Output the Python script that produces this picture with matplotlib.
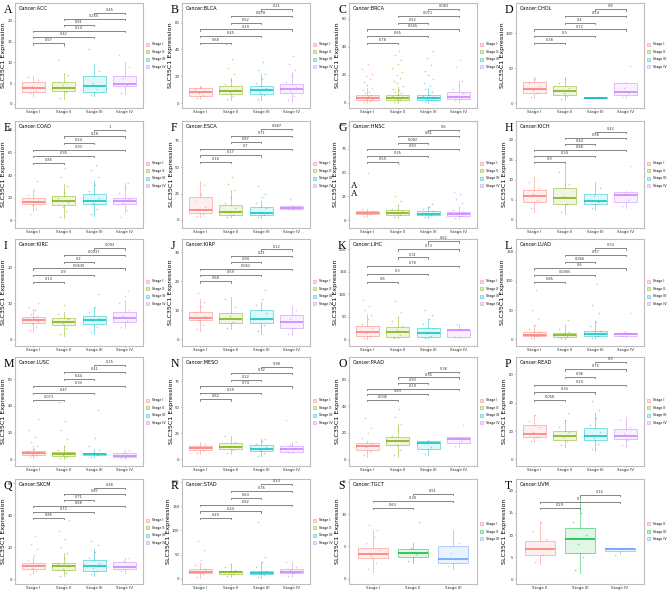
import numpy as np
import matplotlib.pyplot as plt
from matplotlib.patches import Patch
from matplotlib.colors import to_rgba

# ---- data: (whisker low, q1, median, q3, whisker high) per stage ----
stages4 = ["Stage I", "Stage II", "Stage III", "Stage IV"]
stages_tgct = ["Stage I", "Stage II", "Stage III"]
stages_uvm = ["Stage II", "Stage III", "Stage IV"]

acc_stats = [(1.8, 2.8, 3.7, 5.3, 6.8), (1.2, 3.2, 3.9, 5.3, 7.5), (2.0, 2.8, 4.4, 6.6, 9.5), (2.3, 4.2, 4.8, 6.6, 10.0)]
acc_pts = [[2.5, 3.1, 4.2, 5.8, 6.5], [1.5, 2.8, 4.6, 6.9, 10.5, 14.0], [2.2, 3.5, 5.1, 7.8, 13.3], [2.6, 4.5, 6.2, 8.9, 11.8]]
acc_p = ["0.57", "0.42", "0.14", "0.81", "0.255", "0.45"]

blca_stats = [(3, 5.5, 8, 11, 13), (2, 6.5, 9, 12.5, 19), (2, 7, 9.5, 13, 22), (1, 7.5, 10.5, 14.5, 23)]
blca_pts = [[4, 6, 7.5, 9, 10.5, 12], [3, 5, 8, 10, 14, 17, 22, 26, 33, 44], [3, 6, 8, 11, 15, 18, 22, 25, 31], [2, 5, 9, 12, 16, 20, 25, 29, 35]]
blca_p = ["0.68", "0.45", "0.29", "0.52", "0.878", "0.11"]

brca_stats = [(0.3, 2, 3.5, 5.5, 10.5), (0.3, 2, 3.8, 6, 11.5), (0.3, 2, 3.5, 5.5, 10.5), (1, 2.5, 4, 8, 16)]
brca_pts = [[1, 1.5, 2.5, 3, 4, 5, 6, 7, 8, 9, 11, 13, 15, 17, 19, 21, 24, 28],
            [1, 2, 3, 4, 5, 6, 7, 8, 9, 10, 12, 14, 16, 18, 20, 22, 25, 28, 31, 34, 37],
            [1, 2, 3, 4, 5, 6, 8, 10, 12, 14, 17, 20, 23, 27, 32, 37],
            [2, 3, 5, 7, 10, 13, 16, 26, 31]]
brca_p = ["0.78", "0.65", "0.565", "0.52", "0.071", "0.083"]

chol_stats = [(7, 15, 20, 30, 37), (5, 12, 17, 24, 37), (6.5, 7, 7.5, 8, 8.5), (7, 12, 16, 28, 30)]
chol_pts = [[9, 14, 19, 24, 29, 34], [6, 10, 15, 21, 28, 35], [7, 8], [8, 14, 22, 53]]
chol_p = ["0.38", "0.3", "0.72", "0.4", "0.54", "0.8"]

coad_stats = [(8, 14, 16, 20, 26), (2, 13, 17, 21, 32), (4, 14, 17, 23, 35), (7, 14.5, 17, 20, 33)]
coad_pts = [[5, 10, 13, 17, 22, 27, 35], [3, 8, 12, 16, 20, 25, 30, 38, 46], [5, 10, 15, 20, 26, 31, 38, 44, 49], [3, 9, 15, 19, 24, 29, 33]]
coad_p = ["0.85", "0.35", "0.93", "0.24", "0.28", "1"]

esca_stats = [(3, 7, 9, 22, 37), (3, 5, 8, 14, 28), (2, 5, 7, 12, 18), (9, 10, 11, 13, 14)]
esca_pts = [[4, 6, 9, 12, 18, 25, 33], [3, 5, 8, 11, 16, 22, 28, 34, 41], [3, 5, 8, 11, 16, 22, 25, 32], [10, 12, 20]]
esca_p = ["0.18", "0.17", "0.7", "0.87", "0.71", "0.887"]

hnsc_stats = [(3, 6, 7.5, 10, 12), (2, 5.5, 7.5, 11, 15), (2, 5, 6, 9, 15), (1, 4.5, 6, 8, 13)]
hnsc_pts = [[4, 6, 8, 10, 12, 50], [3, 5, 7, 9, 12, 16, 20, 25, 59], [3, 5, 7, 9, 12, 14, 17], [2, 4, 6, 8, 11, 14, 18, 22, 27, 30]]
hnsc_p = ["0.59", "0.35", "0.93", "0.082", "0.61", "0.6"]

kich_stats = [(2, 4.5, 6, 7.5, 11), (1.5, 4, 5.5, 8, 14), (2.5, 4, 4.8, 6.5, 9.5), (3, 4.5, 6.2, 7, 7.2)]
kich_pts = [[3, 5, 6.5, 8, 9.5], [2, 4, 6, 9, 12], [3, 4.5, 6, 8], [3.5, 5, 6.5, 13.5]]
kich_p = ["0.9", "0.34", "0.88", "0.44", "0.58", "0.42"]

kirc_stats = [(2, 4.5, 5.3, 6.2, 8.5), (1, 4, 4.8, 6, 7.5), (1.5, 4.3, 5.4, 6.4, 9), (3, 4.8, 5.8, 7.5, 11)]
kirc_pts = [[2.5, 3.5, 4.5, 5, 5.5, 6, 6.5, 7, 8, 9, 10], [1.5, 3, 4.5, 5.5, 7, 9.5], [2, 3.5, 5, 6, 7.5, 9, 12.5], [3.5, 5, 6.5, 8, 10, 12, 13.5]]
kirc_p = ["0.13", "0.9", "0.0635", "0.2", "0.0037", "0.093"]

kirp_stats = [(3, 6.5, 7.5, 9.5, 14), (3.5, 5.5, 7, 9.2, 14.5), (2, 5.5, 7, 10, 13), (1.5, 4, 6, 8.5, 11.5)]
kirp_pts = [[3.5, 5, 6.5, 8, 9.5, 11, 13, 16, 20], [4, 6, 8, 11, 14], [3, 5, 7, 9, 12, 14, 17], [2, 4, 7, 10]]
kirp_p = ["0.68", "0.59", "0.062", "0.94", "0.21", "0.12"]

lihc_stats = [(0, 7, 16, 29, 57), (2, 5, 16, 27, 48), (2, 5, 13, 25, 45), (3, 5, 20, 20.5, 33)]
lihc_pts = [[2, 8, 15, 25, 35, 45, 55, 65, 75, 88], [3, 10, 20, 30, 40, 50, 60, 85], [3, 8, 15, 25, 35, 45, 55, 65], [5, 20, 33]]
lihc_p = ["0.8", "0.3", "0.78", "0.31", "0.73", "0.62"]

luad_stats = [(0, 5, 8, 12, 25), (1, 4.5, 7.5, 11, 22), (1, 6, 9.5, 14.5, 32), (4, 6.5, 8.5, 10.5, 15)]
luad_pts = [[2, 5, 8, 12, 18, 25, 35, 50, 85], [2, 5, 8, 12, 18, 25, 33], [2, 6, 10, 15, 22, 30, 45, 58, 95], [5, 9, 13, 45]]
luad_p = ["0.85", "0.0065", "0.6", "0.066", "0.57", "0.33"]

lusc_stats = [(1, 3, 4.5, 6, 10), (0.5, 2.5, 4, 5.5, 10), (1.5, 3, 4, 5, 8), (0.5, 1.5, 2.5, 4.5, 7)]
lusc_pts = [[1.5, 3, 4, 5, 6, 8, 10, 13, 17, 22, 30], [1, 2, 3.5, 5, 7, 10, 15, 22, 29, 43], [2, 3.5, 5, 7, 10, 16, 37], [1, 3, 5, 7]]
lusc_p = ["0.073", "0.47", "0.33", "0.44", "0.41", "0.15"]

meso_stats = [(5, 9, 11, 13, 17), (5, 10, 12, 16, 22), (3, 8, 10, 13.5, 20), (6, 7.5, 9.5, 13, 17)]
meso_pts = [[6, 9, 12, 15], [6, 9, 13, 17, 22, 57], [3, 6, 9, 12, 15, 18, 20], [7, 10, 14, 17, 38]]
meso_p = ["0.62", "0.29", "0.74", "0.22", "0.32", "0.98"]

paad_stats = [(2, 7, 10, 12, 14), (2, 10.5, 14, 17, 27), (3, 8, 12.5, 14, 14.5), (9, 12, 15, 16.5, 17)]
paad_pts = [[3, 6, 9, 12, 16, 20, 24, 31], [3, 7, 11, 14, 18, 22, 27, 32, 38], [4, 9, 13], [10, 14, 16, 26]]
paad_p = ["0.036", "0.83", "0.19", "0.93", "0.35", "0.38"]

read_stats = [(12, 16, 18, 24, 31), (9, 14, 16.5, 20, 28), (6, 13.5, 16.5, 22, 33), (9, 14.5, 16.5, 21.5, 30)]
read_pts = [[13, 16, 19, 23, 27, 31], [10, 13, 16, 19, 23, 28, 33], [7, 11, 15, 19, 24, 29, 35, 41], [10, 14, 18, 23, 28]]
read_p = ["0.058", "0.33", "0.29", "0.98", "0.75", "0.9"]

skcm_stats = [(3, 6, 8, 10, 14), (2, 5.5, 8, 10, 16), (2, 5, 8, 12, 19), (4, 6, 7.5, 10.5, 13)]
skcm_pts = [[3, 5, 7, 9, 12, 15, 19, 22, 27], [2, 4, 6, 8, 10, 13, 16, 20, 25, 30, 37], [3, 5, 7, 10, 13, 17, 21, 24], [5, 8, 11, 13]]
skcm_p = ["0.85", "0.72", "0.68", "0.71", "0.87", "0.48"]

stad_stats = [(3, 12, 15, 20, 32), (5, 11, 14, 17, 30), (3, 10, 13, 17, 35), (5, 12, 15, 20, 35)]
stad_pts = [[5, 10, 15, 20, 28, 38, 60, 78], [6, 10, 14, 18, 24, 30], [4, 8, 12, 17, 25, 35, 45, 117], [6, 12, 18, 25, 35]]
stad_p = ["0.49", "0.44", "0.82", "0.63", "0.35", "0.23"]

tgct_stats = [(1, 3.2, 3.8, 4.8, 7.5), (2.5, 3.3, 4.0, 4.6, 5.5), (1.5, 2.5, 3.0, 5.0, 7.5)]
tgct_pts = [[1.5, 2.5, 3.5, 4.5, 5.5, 6.5, 7.5, 8.3], [2.8, 3.8, 4.8, 8.7], [2, 3, 4, 5.5]]
tgct_p = ["0.63", "0.38", "0.51"]

uvm_stats = [(3.5, 5.5, 6.8, 8.6, 13), (1.5, 6, 9, 11.5, 18), (5.8, 6.3, 6.8, 7.0, 7.1)]
uvm_pts = [[4, 5.5, 7, 9, 11, 13], [2, 5, 8, 10, 13, 15], [5.5, 6.8]]
uvm_p = ["0.29", "0.7", "0.16"]

panels = [
    ("A", "ACC", stages4, acc_stats, acc_pts, acc_p),
    ("B", "BLCA", stages4, blca_stats, blca_pts, blca_p),
    ("C", "BRCA", stages4, brca_stats, brca_pts, brca_p),
    ("D", "CHOL", stages4, chol_stats, chol_pts, chol_p),
    ("E", "COAD", stages4, coad_stats, coad_pts, coad_p),
    ("F", "ESCA", stages4, esca_stats, esca_pts, esca_p),
    ("G", "HNSC", stages4, hnsc_stats, hnsc_pts, hnsc_p),
    ("H", "KICH", stages4, kich_stats, kich_pts, kich_p),
    ("I", "KIRC", stages4, kirc_stats, kirc_pts, kirc_p),
    ("J", "KIRP", stages4, kirp_stats, kirp_pts, kirp_p),
    ("K", "LIHC", stages4, lihc_stats, lihc_pts, lihc_p),
    ("L", "LUAD", stages4, luad_stats, luad_pts, luad_p),
    ("M", "LUSC", stages4, lusc_stats, lusc_pts, lusc_p),
    ("N", "MESO", stages4, meso_stats, meso_pts, meso_p),
    ("O", "PAAD", stages4, paad_stats, paad_pts, paad_p),
    ("P", "READ", stages4, read_stats, read_pts, read_p),
    ("Q", "SKCM", stages4, skcm_stats, skcm_pts, skcm_p),
    ("R", "STAD", stages4, stad_stats, stad_pts, stad_p),
    ("S", "TGCT", stages_tgct, tgct_stats, tgct_pts, tgct_p),
    ("T", "UVM", stages_uvm, uvm_stats, uvm_pts, uvm_p),
]

# ---- layout: y limits, ticks, bracket base / step ----
ylims = [(-1, 24.3), (-3.7, 74.7), (-3.6, 71.4), (-7.1, 143),
         (-7, 87.9), (-7.6, 93.6), (-8.4, 104.2), (-2, 24.6),
         (-1.9, 27.9), (-2.3, 34.6), (-15, 223), (-11.5, 172),
         (-5, 76.7), (-6.4, 98.4), (-5, 77.2), (-4.7, 72.3),
         (-3.1, 62.5), (-10.3, 205.5), (-0.8, 15.4), (-1.1, 22.7)]
yticks = [[0, 5, 10, 15, 20], [0, 20, 40, 60], [0, 20, 40, 60], [0, 50, 100],
          [0, 20, 40, 60, 80], [0, 25, 50, 75], [0, 25, 50, 75, 100], [0, 5, 10, 15, 20],
          [0, 10, 20], [0, 10, 20, 30], [0, 50, 100, 150, 200], [0, 50, 100, 150],
          [0, 20, 40, 60], [0, 25, 50, 75], [0, 20, 40, 60], [0, 20, 40, 60],
          [0, 20, 40, 60], [0, 50, 100, 150, 200], [0, 5, 10, 15], [0, 5, 10, 15, 20]]
brackets = [(14.6, 1.46), (45, 5), (43, 4.8), (86, 9.6),
            (51, 5.8), (55, 6.2), (61, 6.8), (14.4, 1.5),
            (16, 1.86), (20, 2.2), (128, 18), (99, 11.4),
            (44.5, 5.3), (57.7, 6.3), (45, 4.2), (42, 5.4),
            (38, 3.8), (125, 14), (10.9, 1.1), (16.1, 1.5)]

colors4 = ["#F8766D", "#7CAE00", "#00BFC4", "#C77CFF"]
colors3 = ["#F8766D", "#00BA38", "#619CFF"]
jit = [-0.12, 0.08, -0.04, 0.15, -0.18, 0.02, 0.11, -0.09, 0.05, -0.14, 0.17, -0.01]

col_left = [15, 182, 349, 516]
row_top = [3, 121, 239, 357, 479]
row_bot = [108, 228, 346, 466, 584]
W, H = 669, 592

fig = plt.figure(figsize=(6.69, 5.92), dpi=100)

for k, (letter, name, stages, stats, pts, pvals) in enumerate(panels):
    r, c = divmod(k, 4)
    l, t, b = col_left[c], row_top[r], row_bot[r]
    ax = fig.add_axes([l / W, 1 - b / H, 128 / W, (b - t) / H])
    n = len(stages)
    cols = colors4 if n == 4 else colors3
    pos = np.arange(1, n + 1)

    bstats = []
    for s in stats:
        bstats.append(dict(whislo=s[0], q1=s[1], med=s[2], q3=s[3], whishi=s[4], fliers=[]))
    bp = ax.bxp(bstats, positions=pos, widths=0.75, showcaps=False, patch_artist=True,
                showfliers=False)
    for i in range(n):
        bp["boxes"][i].set_facecolor(to_rgba(cols[i], 0.12))
        bp["boxes"][i].set_edgecolor(to_rgba(cols[i], 0.55))
        bp["boxes"][i].set_linewidth(0.6)
        bp["medians"][i].set_color(cols[i])
        bp["medians"][i].set_linewidth(1.1)
        for w in bp["whiskers"][2 * i:2 * i + 2]:
            w.set_color(to_rgba(cols[i], 0.55))
            w.set_linewidth(0.6)
        xs = [pos[i] + jit[j % len(jit)] for j in range(len(pts[i]))]
        ax.scatter(xs, pts[i], s=1.5, color=cols[i], alpha=0.45, linewidths=0, zorder=3)

    ax.set_xlim(0.4, n + 0.6)
    ax.set_ylim(*ylims[k])
    ax.set_xticks(pos)
    ax.set_xticklabels(stages, fontsize=3.0)
    ax.set_yticks(yticks[k])
    ax.set_yticklabels([str(v) for v in yticks[k]], fontsize=2.8)
    ax.tick_params(length=1.0, width=0.4, pad=0.8, colors="#333333")
    for sp in ax.spines.values():
        sp.set_color("#BDBDBD")
        sp.set_linewidth(0.8)
    ax.set_ylabel("SLC35C1 Expression", fontsize=4.6, labelpad=0.8)

    # significance brackets
    if n == 4:
        pairs = [(1, 2), (1, 3), (1, 4), (2, 3), (2, 4), (3, 4)]
    else:
        pairs = [(1, 2), (1, 3), (2, 3)]
    y0, step = brackets[k]
    rng = ylims[k][1] - ylims[k][0]
    for j, (a, bb) in enumerate(pairs):
        yy = y0 + j * step
        ax.plot([a, a, bb, bb], [yy - rng * 0.012, yy, yy, yy - rng * 0.012],
                color="#555555", lw=0.5)
        ax.text((a + bb) / 2, yy + rng * 0.008, pvals[j], ha="center", va="bottom",
                fontsize=2.5, color="#333333")

    ax.text(0.03, 0.975, "Cancer:" + name, transform=ax.transAxes, ha="left", va="top",
            fontsize=3.5)
    handles = [Patch(facecolor=to_rgba(cols[i], 0.25), edgecolor=to_rgba(cols[i], 0.6),
                     linewidth=0.5) for i in range(n)]
    ax.legend(handles, stages, loc="center left", bbox_to_anchor=(1.0, 0.5), fontsize=2.3,
              frameon=False, handlelength=1.1, handleheight=1.0, labelspacing=1.1,
              handletextpad=0.8, borderaxespad=0.6, borderpad=0.2)

    fig.text((l - 11) / W, 1 - (t + 7) / H, letter, family="Liberation Serif", fontsize=8.5,
             ha="left", va="center")

# stray letters present in panel G of the original
fig.text(351 / W, 1 - 186 / H, "A", family="Liberation Serif", fontsize=6.5, ha="left", va="center")
fig.text(351 / W, 1 - 194 / H, "A", family="Liberation Serif", fontsize=6.5, ha="left", va="center")

fig.savefig("out.png", dpi=100)
